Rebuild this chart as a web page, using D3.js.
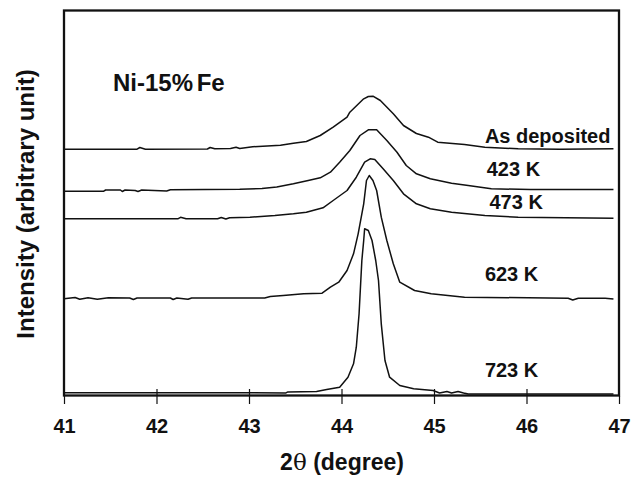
<!DOCTYPE html>
<html>
<head>
<meta charset="utf-8">
<script src="https://cdn.jsdelivr.net/npm/d3@7/dist/d3.min.js"></script>
<style>
  body { margin: 0; background: #fff; }
  svg text { font-family: "Liberation Sans", Arial, Helvetica, sans-serif; font-weight: bold; fill: #111; }
</style>
</head>
<body>
<svg id="chart" width="638" height="483"></svg>
<script>
// data: [2theta, intensity (a.u., offset stacked)]
var xTicks = [41, 42, 43, 44, 45, 46, 47];

var asDeposited = [
  [41.00,246.3],[41.79,246.3],[41.82,248.0],[41.88,246.3],[42.55,246.5],[42.58,248.0],[42.63,246.7],
  [42.80,247.0],[42.86,248.3],[42.90,247.0],[43.04,248.7],[43.34,250.3],[43.48,252.3],[43.62,254.0],
  [43.77,260.0],[43.91,268.3],[44.06,278.3],[44.09,283.3],[44.24,296.7],[44.29,299.0],[44.34,299.3],
  [44.42,295.0],[44.56,281.7],[44.67,270.0],[44.81,262.0],[44.94,258.3],[45.04,253.3],[45.33,251.0],
  [45.55,248.3],[45.91,246.7],[46.36,246.2],[46.94,246.7]
];
var k423 = [
  [41.00,204.3],[41.43,204.3],[41.45,205.5],[41.61,205.5],[41.63,204.0],[41.66,205.5],[41.77,205.0],
  [41.80,204.0],[41.84,205.5],[42.11,204.5],[42.15,205.7],[42.90,206.3],[43.14,207.0],[43.30,208.5],
  [43.48,211.7],[43.64,215.0],[43.77,217.7],[43.88,223.3],[43.98,233.3],[44.09,245.0],[44.20,260.0],
  [44.29,265.7],[44.38,265.7],[44.49,255.0],[44.60,243.3],[44.70,230.0],[44.81,221.7],[44.96,216.7],
  [45.19,212.3],[45.37,210.0],[45.62,206.7],[46.04,206.0],[46.94,206.0]
];
var k473 = [
  [41.00,176.7],[42.23,176.7],[42.26,178.2],[42.32,176.7],[42.66,176.7],[42.70,178.0],[42.75,176.5],
  [42.79,177.8],[43.01,178.3],[43.28,180.0],[43.48,181.7],[43.62,183.3],[43.80,187.7],[43.91,195.0],
  [44.06,205.0],[44.16,218.3],[44.25,233.3],[44.31,236.7],[44.36,236.0],[44.45,226.7],[44.56,215.0],
  [44.67,201.7],[44.81,191.7],[44.96,186.7],[45.19,183.3],[45.55,180.0],[45.91,178.3],[46.94,177.3]
];
var k623 = [
  [41.00,96.7],[41.12,98.0],[41.17,96.2],[41.26,97.7],[41.36,96.2],[41.48,97.7],[41.71,97.5],
  [41.75,96.0],[41.79,97.5],[42.15,97.5],[42.18,96.0],[42.22,97.5],[42.34,96.2],[42.38,97.5],
  [43.17,97.5],[43.23,99.0],[43.37,100.0],[43.59,101.7],[43.79,102.3],[43.88,108.3],[43.97,113.3],
  [44.06,125.0],[44.13,141.7],[44.18,161.7],[44.24,191.7],[44.27,215.0],[44.30,220.0],[44.34,215.0],
  [44.38,205.0],[44.43,178.3],[44.49,155.0],[44.56,131.7],[44.63,113.3],[44.79,105.0],[44.97,101.7],
  [45.33,98.3],[46.45,97.3],[46.50,95.5],[46.56,97.3],[46.85,97.3],[46.94,96.5]
];
var k723 = [
  [41.00,2.8],[43.40,2.6],[43.42,3.6],[43.73,4.0],[43.84,5.9],[43.98,8.3],[44.07,18.3],[44.13,31.7],
  [44.16,48.3],[44.19,81.7],[44.22,135.0],[44.24,155.0],[44.25,166.7],[44.29,165.0],[44.33,155.0],
  [44.37,135.0],[44.40,115.0],[44.43,71.7],[44.47,35.0],[44.52,18.3],[44.63,10.0],[44.78,6.7],
  [44.99,5.0],[45.06,2.5],[45.14,4.0],[45.19,2.5],[45.26,4.0],[45.32,2.5],[45.37,1.5],[46.94,1.5]
];
var seriesNames = ["As deposited", "423 K", "473 K", "623 K", "723 K"];
var seriesData = [asDeposited, k423, k473, k623, k723];

// label anchors (2theta, intensity) for the curve names
var labelAt = [[45.55,252.3],[45.57,219.3],[45.60,186.7],[45.55,115],[45.55,19]];

var svg = d3.select('#chart');
var x = d3.scaleLinear().domain([41, 47]).range([64, 619]);
var y = d3.scaleLinear().domain([0, 385]).range([395.5, 10.5]);

var line = d3.line()
  .x(function(d){ return x(d[0]); })
  .y(function(d){ return y(d[1]); });

svg.selectAll('.curve').data(seriesData).enter().append('path')
  .attr('class', 'curve')
  .attr('d', line)
  .style('fill', 'none')
  .style('stroke', '#111')
  .style('stroke-width', 1.5)
  .style('stroke-linejoin', 'round');

// frame
svg.append('rect')
  .attr('x', x(41)).attr('y', y(385))
  .attr('width', x(47) - x(41)).attr('height', y(0) - y(385))
  .style('fill', 'none').style('stroke', '#111').style('stroke-width', 2.3);

// x axis, ticks cross the bottom edge
var axis = svg.append('g')
  .attr('transform', 'translate(0,' + (y(0) + 0.5) + ')')
  .call(d3.axisBottom(x).tickValues(xTicks).tickSize(7).tickFormat(d3.format('d')));
axis.select('.domain').remove();
axis.selectAll('.tick line')
  .attr('y1', function(d){ return (d === 41 || d === 47) ? 0 : -7; })
  .attr('y2', 8).style('stroke', '#111').style('stroke-width', 1.2);
axis.selectAll('.tick text')
  .attr('y', 37).attr('dy', null)
  .style('font-size', '20px').style('font-family', null).style('fill', '#111');

// curve labels
svg.selectAll('.lbl').data(seriesNames).enter().append('text')
  .attr('class', 'lbl')
  .attr('x', function(d, i){ return x(labelAt[i][0]); })
  .attr('y', function(d, i){ return y(labelAt[i][1]); })
  .style('font-size', '20px')
  .text(function(d){ return d; });

svg.append('text')
  .attr('x', 113).attr('y', 90.5)
  .style('font-size', '24px')
  .style('word-spacing', '-3px')
  .text('Ni-15% Fe');

// axis titles
svg.append('text')
  .attr('x', 342).attr('y', 470)
  .attr('text-anchor', 'middle')
  .style('font-size', '23px')
  .html('2<tspan style="font-family:\'DejaVu Serif\',serif;font-weight:normal">θ</tspan> (degree)');

svg.append('text')
  .attr('transform', 'translate(34,204) rotate(-90)')
  .attr('text-anchor', 'middle')
  .style('font-size', '24px')
  .text('Intensity (arbitrary unit)');
</script>
</body>
</html>
